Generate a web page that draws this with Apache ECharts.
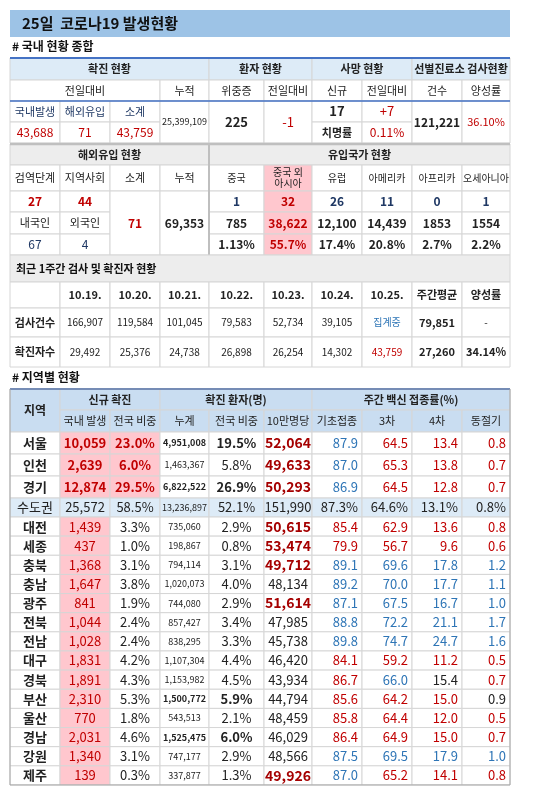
<!DOCTYPE html>
<html><head><meta charset="utf-8">
<script src="https://cdn.jsdelivr.net/npm/echarts@6/dist/echarts.min.js"></script>
<style>html,body{margin:0;padding:0;background:#fff}#c{width:550px;height:800px}</style>
</head><body><div id="c"></div>
<script>
// ---------- data ----------
const title = "25일  코로나19 발생현황";
const sec1Title = "# 국내 현황 종합";
const sec3Title = "# 지역별 현황";
const summaryHead = ["확진 현황","환자 현황","사망 현황","선별진료소 검사현황"];
const summarySub = ["전일대비","누적","위중증","전일대비","신규","전일대비","건수","양성률"];
const confirmedLabels = ["국내발생","해외유입","소계"];
const confirmedValues = ["43,688","71","43,759"];
const cumulative = "25,399,109";
const critical = "225", criticalDiff = "-1";
const deathsNew = "17", deathsDiff = "+7", fatalityLabel = "치명률", fatality = "0.11%";
const tests = "121,221", positivity = "36.10%";
const importHead = ["해외유입 현황","유입국가 현황"];
const importCols = ["검역단계","지역사회","소계","누적","중국","중국 외\n아시아","유럽","아메리카","아프리카","오세아니아"];
const importStage = ["27","44"], importNat = ["내국인","외국인"], importNatVal = ["67","4"];
const importSub = "71", importCum = "69,353";
const originToday = ["1","32","26","11","0","1"];
const originCum = ["785","38,622","12,100","14,439","1853","1554"];
const originShare = ["1.13%","55.7%","17.4%","20.8%","2.7%","2.2%"];
const weekTitle = "최근 1주간 검사 및 확진자 현황";
const weekDates = ["10.19.","10.20.","10.21.","10.22.","10.23.","10.24.","10.25.","주간평균","양성률"];
const weekTests = ["166,907","119,584","101,045","79,583","52,734","39,105","집계중","79,851","-"];
const weekCases = ["29,492","25,376","24,738","26,898","26,254","14,302","43,759","27,260","34.14%"];
const regions = ["서울","인천","경기","수도권","대전","세종","충북","충남","광주","전북","전남","대구","경북","부산","울산","경남","강원","제주"];
const newDomestic = ["10,059","2,639","12,874","25,572","1,439","437","1,368","1,647","841","1,044","1,028","1,831","1,891","2,310","770","2,031","1,340","139"];
const newShare = ["23.0%","6.0%","29.5%","58.5%","3.3%","1.0%","3.1%","3.8%","1.9%","2.4%","2.4%","4.2%","4.3%","5.3%","1.8%","4.6%","3.1%","0.3%"];
const cumCases = ["4,951,008","1,463,367","6,822,522","13,236,897","735,060","198,867","794,114","1,020,073","744,080","857,427","838,295","1,107,304","1,153,982","1,500,772","543,513","1,525,475","747,177","337,877"];
const cumShare = ["19.5%","5.8%","26.9%","52.1%","2.9%","0.8%","3.1%","4.0%","2.9%","3.4%","3.3%","4.4%","4.5%","5.9%","2.1%","6.0%","2.9%","1.3%"];
const per100k = ["52,064","49,633","50,293","151,990","50,615","53,474","49,712","48,134","51,614","47,985","45,738","46,420","43,934","44,794","48,459","46,029","48,566","49,926"];
const vaxBase = ["87.9","87.0","86.9","87.3%","85.4","79.9","89.1","89.2","87.1","88.8","89.8","84.1","86.7","85.6","85.8","86.4","87.5","87.0"];
const vax3 = ["64.5","65.3","64.5","64.6%","62.9","56.7","69.6","70.0","67.5","72.2","74.7","59.2","66.0","64.2","64.4","64.9","69.5","65.2"];
const vax4 = ["13.4","13.8","12.8","13.1%","13.6","9.6","17.8","17.7","16.7","21.1","24.7","11.2","15.4","15.0","12.0","15.0","17.9","14.1"];
const vaxWinter = ["0.8","0.7","0.7","0.8%","0.8","0.6","1.2","1.1","1.0","1.7","1.6","0.5","0.7","0.9","0.5","0.7","1.0","0.8"];
// colour codes for vaccine columns (b=blue, r=red, k=black)
const vaxColors = ["brrr","brrr","brrr","kkkk","rrrr","rrrr","bbbb","bbbb","bbbb","bbbb","bbbb","rrrr","rbkr","rrrk","rrrr","rrrr","bbbb","brrr"];
const per100kBold = [1,1,1,0,1,1,1,0,1,0,0,0,0,0,0,0,0,1];
const cumBold = [1,0,1,0,0,0,0,0,0,0,0,0,0,1,0,1,0,0];
const topThree = [1,1,1,0,0,0,0,0,0,0,0,0,0,0,0,0,0,0];

// ---------- layout ----------
const X = [10,60,110,160,209,264,312,362,412,462,510];
const RED="#c00000", NAVY="#1f3864", BLUE="#2e75b6", DARK="#222", PINK="#ffc7ce";
const FONT='"Noto Sans CJK KR","Noto Sans",sans-serif';
const els = [];
function cell(c0,c1,y0,y1,txt,o){
  o=o||{};
  els.push({type:'rect',shape:{x:X[c0],y:y0,width:X[c1]-X[c0],height:y1-y0},
    style:{fill:o.bg||'#fff',stroke:'#d6d6d6',lineWidth:1}});
  if(txt===undefined||txt==='') return;
  const right=o.align==='right';
  els.push({type:'text',x:right?X[c1]-4:(X[c0]+X[c1])/2,y:(y0+y1)/2,
    style:{text:txt,fill:o.color||DARK,font:(o.bold?'bold ':'')+(o.size||12)+'px '+FONT,
      textAlign:right?'right':'center',textVerticalAlign:'middle',lineHeight:(o.size||12)+1}});
}
function hline(y,color,w){els.push({type:'line',shape:{x1:X[0],y1:y,x2:X[10],y2:y},style:{stroke:color,lineWidth:w}});}
function vline(x,y0,y1,color,w){els.push({type:'line',shape:{x1:x,y1:y0,x2:x,y2:y1},style:{stroke:color,lineWidth:w}});}
function label(x,y,txt,size,bold){els.push({type:'text',x:x,y:y,style:{text:txt,fill:'#111',font:(bold?'bold ':'')+size+'px '+FONT,textVerticalAlign:'middle'}});}

// title
els.push({type:'rect',shape:{x:10,y:10,width:500,height:27},style:{fill:'#9dc3e6'}});
label(22,23,title,15,true);
label(12,46,sec1Title,12,true);

// table 1
const H1='#ddebf7';
let y=[58,80,101,122,143];
const spans=[[0,4],[4,6],[6,8],[8,10]];
summaryHead.forEach((t,i)=>cell(spans[i][0],spans[i][1],y[0],y[1],t,{bg:H1,bold:true,size:11}));
cell(0,3,y[1],y[2],summarySub[0],{size:11});
summarySub.slice(1).forEach((t,i)=>cell(3+i,4+i,y[1],y[2],t,{size:11}));
confirmedLabels.forEach((t,i)=>cell(i,i+1,y[2],y[3],t,{color:NAVY,size:11}));
confirmedValues.forEach((t,i)=>cell(i,i+1,y[3],y[4],t,{color:RED,size:12}));
cell(3,4,y[2],y[4],cumulative,{size:9});
cell(4,5,y[2],y[4],critical,{bold:true,size:13});
cell(5,6,y[2],y[4],criticalDiff,{color:RED,size:13});
cell(6,7,y[2],y[3],deathsNew,{bold:true,size:13});
cell(7,8,y[2],y[3],deathsDiff,{color:RED,size:13});
cell(6,7,y[3],y[4],fatalityLabel,{bold:true,size:11});
cell(7,8,y[3],y[4],fatality,{color:RED,size:12});
cell(8,9,y[2],y[4],tests,{bold:true,size:12});
cell(9,10,y[2],y[4],positivity,{color:RED,size:11});
hline(58,'#4472c4',2);hline(101,'#4472c4',1.5);

// section 2
const G='#ededed';
y=[144,165,191,212,234,255,282,308,337,367];
cell(0,4,y[0],y[1],importHead[0],{bg:G,bold:true,size:11});
cell(4,10,y[0],y[1],importHead[1],{bg:G,bold:true,size:11});
importCols.forEach((t,i)=>cell(i,i+1,y[1],y[2],t,{size:i<4?11:10,bg:i===5?PINK:undefined}));
importStage.forEach((t,i)=>cell(i,i+1,y[2],y[3],t,{color:RED,bold:true,size:12}));
importNat.forEach((t,i)=>cell(i,i+1,y[3],y[4],t,{size:11}));
importNatVal.forEach((t,i)=>cell(i,i+1,y[4],y[5],t,{color:NAVY,size:12}));
cell(2,3,y[2],y[5],importSub,{color:RED,bold:true,size:12});
cell(3,4,y[2],y[5],importCum,{bold:true,size:12});
originToday.forEach((t,i)=>cell(4+i,5+i,y[2],y[3],t,{color:i===1?RED:NAVY,bold:true,size:12,bg:i===1?PINK:undefined}));
originCum.forEach((t,i)=>cell(4+i,5+i,y[3],y[4],t,{color:i===1?RED:DARK,bold:true,size:12,bg:i===1?PINK:undefined}));
originShare.forEach((t,i)=>cell(4+i,5+i,y[4],y[5],t,{color:i===1?RED:DARK,bold:true,size:12,bg:i===1?PINK:undefined}));
vline(209,y[0],y[5],'#bfbfbf',2);
hline(144,'#bfbfbf',2.5);
cell(0,10,y[5],y[6],'',{bg:G});
label(16,(y[5]+y[6])/2,weekTitle,11,true);
cell(0,1,y[6],y[7],'');
weekDates.forEach((t,i)=>cell(1+i,2+i,y[6],y[7],t,{bold:true,size:11}));
cell(0,1,y[7],y[8],'검사건수',{bold:true,size:11});
weekTests.forEach((t,i)=>cell(1+i,2+i,y[7],y[8],t,{size:i===7?11:10,bold:i===7,color:i===6?BLUE:DARK}));
cell(0,1,y[8],y[9],'확진자수',{bold:true,size:11});
weekCases.forEach((t,i)=>cell(1+i,2+i,y[8],y[9],t,{size:i>=7?11:10,bold:i>=7,color:i===6?RED:DARK}));

// table 3
label(12,377,sec3Title,12,true);
const H3='#c9ddf1';
const tTop=389,h1=410,h2=432;
cell(0,1,tTop,h2,'지역',{bg:H3,bold:true,size:12});
cell(1,3,tTop,h1,'신규 확진',{bg:H3,bold:true,size:11});
cell(3,6,tTop,h1,'확진 환자(명)',{bg:H3,bold:true,size:11});
cell(6,10,tTop,h1,'주간 백신 접종률(%)',{bg:H3,bold:true,size:11});
["국내 발생","전국 비중","누계","전국 비중","10만명당","기초접종","3차","4차","동절기"].forEach((t,i)=>cell(1+i,2+i,h1,h2,t,{bg:H3,size:11}));
hline(389,'#4472c4',2);
const colMap={b:BLUE,r:RED,k:DARK};
let yy=h2;
regions.forEach((r,i)=>{
  const hgt=i<3?22:(i===3?19:19.14);
  const y0=yy,y1=yy+hgt; yy=y1;
  const metro=i===3, bgRow=metro?'#ddebf7':undefined;
  cell(0,1,y0,y1,r,{bold:!metro,size:13,bg:bgRow});
  cell(1,2,y0,y1,newDomestic[i],{bg:metro?bgRow:PINK,color:metro?DARK:RED,bold:!!topThree[i],size:13});
  cell(2,3,y0,y1,newShare[i],{bg:topThree[i]?PINK:bgRow,color:topThree[i]?RED:DARK,bold:!!topThree[i],size:13});
  cell(3,4,y0,y1,cumCases[i],{bg:bgRow,bold:!!cumBold[i],size:9});
  cell(4,5,y0,y1,cumShare[i],{bg:bgRow,bold:!!cumBold[i],size:13});
  cell(5,6,y0,y1,per100k[i],{bg:bgRow,bold:!!per100kBold[i],color:per100kBold[i]?'#a50000':DARK,size:per100kBold[i]?14:13});
  [vaxBase,vax3,vax4,vaxWinter].forEach((arr,k)=>cell(6+k,7+k,y0,y1,arr[i],{bg:bgRow,align:'right',size:13,color:colMap[vaxColors[i][k]]}));
});
els.push({type:'rect',shape:{x:10,y:389,width:500,height:yy-389},style:{fill:'none',stroke:'#a6a6a6',lineWidth:1}});

const chart=echarts.init(document.getElementById('c'));
chart.setOption({animation:false,graphic:{elements:els}});
</script></body></html>
